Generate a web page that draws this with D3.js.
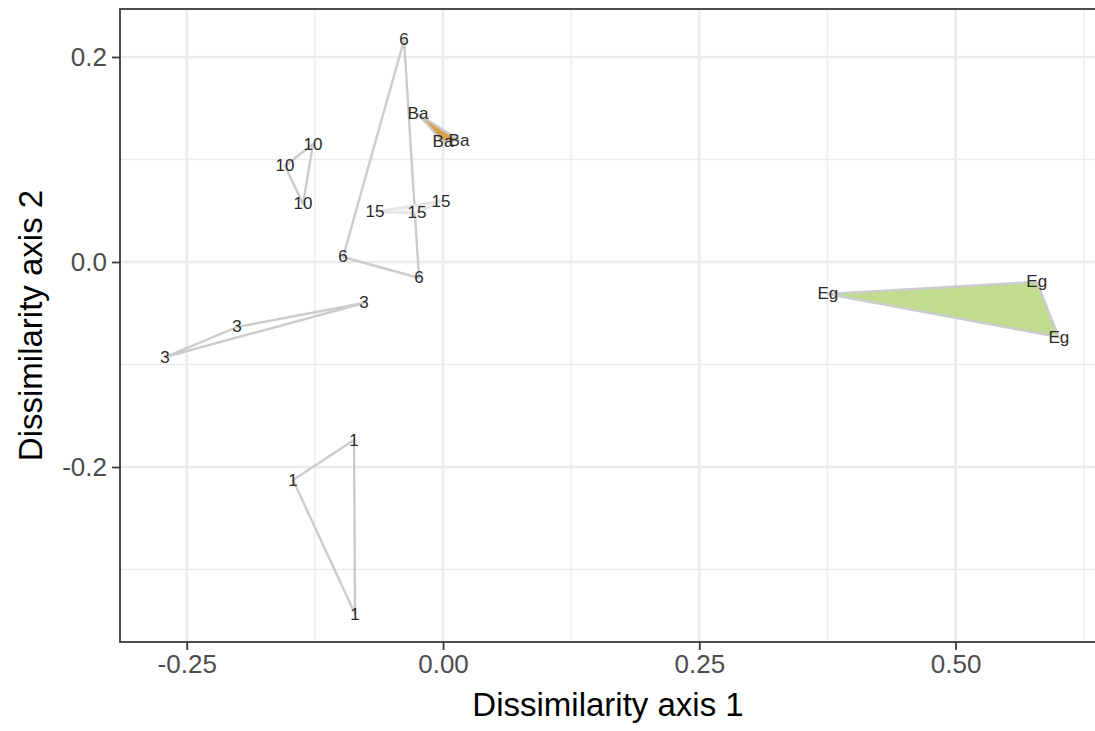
<!DOCTYPE html>
<html>
<head>
<meta charset="utf-8">
<script src="https://cdn.jsdelivr.net/npm/d3@7"></script>
<style>
  html, body { margin: 0; padding: 0; background: #ffffff; }
  svg { display: block; }
  text { font-family: "Liberation Sans", Arial, Helvetica, sans-serif; }
</style>
</head>
<body>
<svg id="chart" width="1095" height="731"></svg>
<script>
// Site scores on the first two dissimilarity axes, grouped by sample label
const sampleLabels = ["1", "1", "1", "3", "3", "3", "6", "6", "6",
                      "10", "10", "10", "15", "15", "15", "Ba", "Ba", "Ba", "Eg", "Eg", "Eg"];
const axis1Scores = [-0.0868, -0.1463, -0.0858,
                     -0.0770, -0.2009, -0.2711,
                     -0.0380, -0.0975, -0.0234,
                     -0.1268, -0.1541, -0.1365,
                     -0.0663, -0.0254, -0.0020,
                     -0.0244, 0.0000, 0.0156,
                      0.3754, 0.5792, 0.6007];
const axis2Scores = [-0.1737, -0.2127, -0.3434,
                     -0.0400, -0.0634, -0.0927,
                      0.2166, 0.0049, -0.0156,
                      0.1151, 0.0937, 0.0566,
                      0.0488, 0.0478, 0.0595,
                      0.1444, 0.1171, 0.1190,
                     -0.0312, -0.0195, -0.0732];

const groupOrder = ["1", "3", "6", "10", "15", "Ba", "Eg"];
const xTicks = [-0.25, 0, 0.25, 0.5];
const xMinor = [-0.125, 0.125, 0.375, 0.625];
const yTicks = [-0.2, 0, 0.2];
const yMinor = [-0.3, -0.1, 0.1];
const xTitle = "Dissimilarity axis 1";
const yTitle = "Dissimilarity axis 2";

// Hull appearance per group
const hullStyle = {
  "1":  { fill: "none",    stroke: "#cccccc" },
  "3":  { fill: "none",    stroke: "#cccccc" },
  "6":  { fill: "none",    stroke: "#cccccc" },
  "10": { fill: "none",    stroke: "#cccccc" },
  "15": { fill: "#f3f3f3", stroke: "#e4e4e4" },
  "Ba": { fill: "#d6a24c", stroke: "#cccccc" },
  "Eg": { fill: "#bfdc8f", stroke: "#cccccc" }
};

const svg = d3.select("#chart");
const panel = { left: 120, right: 1096, top: 9, bottom: 642 };

const x = d3.scaleLinear().domain([-0.3151, 0.6370]).range([panel.left, panel.right]);
const y = d3.scaleLinear().domain([-0.3707, 0.2468]).range([panel.bottom, panel.top]);

const points = sampleLabels.map((g, i) => ({ group: g, a1: axis1Scores[i], a2: axis2Scores[i] }));

// plain hyphen for negative tick labels
const fmt = f => v => d3.format(f)(v).replace("\u2212", "-");

// panel background and grid
svg.append("rect")
  .attr("x", panel.left).attr("y", panel.top)
  .attr("width", panel.right - panel.left).attr("height", panel.bottom - panel.top)
  .attr("fill", "#ffffff");

const grid = svg.append("g");
grid.selectAll("line.xminor").data(xMinor).join("line")
  .attr("x1", d => x(d)).attr("x2", d => x(d))
  .attr("y1", panel.top).attr("y2", panel.bottom)
  .attr("stroke", "#ececec").attr("stroke-width", 1.4);
grid.selectAll("line.yminor").data(yMinor).join("line")
  .attr("y1", d => y(d)).attr("y2", d => y(d))
  .attr("x1", panel.left).attr("x2", panel.right)
  .attr("stroke", "#ececec").attr("stroke-width", 1.4);
grid.selectAll("line.xmajor").data(xTicks).join("line")
  .attr("x1", d => x(d)).attr("x2", d => x(d))
  .attr("y1", panel.top).attr("y2", panel.bottom)
  .attr("stroke", "#ebebeb").attr("stroke-width", 2.6);
grid.selectAll("line.ymajor").data(yTicks).join("line")
  .attr("y1", d => y(d)).attr("y2", d => y(d))
  .attr("x1", panel.left).attr("x2", panel.right)
  .attr("stroke", "#ebebeb").attr("stroke-width", 2.6);

// convex hulls
const hulls = svg.append("g");
groupOrder.forEach(g => {
  const pts = points.filter(p => p.group === g).map(p => [x(p.a1), y(p.a2)]);
  const hull = d3.polygonHull(pts);
  hulls.append("path")
    .attr("d", "M" + hull.map(p => p.join(",")).join("L") + "Z")
    .attr("fill", hullStyle[g].fill)
    .attr("stroke", hullStyle[g].stroke)
    .attr("stroke-width", 2.4)
    .attr("stroke-linejoin", "round");
});

// sample labels
svg.append("g").selectAll("text").data(points).join("text")
  .attr("x", d => x(d.a1)).attr("y", d => y(d.a2))
  .attr("text-anchor", "middle")
  .attr("dominant-baseline", "central")
  .attr("font-size", 17)
  .attr("fill", "#2a2a2a")
  .text(d => d.group);

// panel border
svg.append("rect")
  .attr("x", panel.left).attr("y", panel.top)
  .attr("width", panel.right - panel.left).attr("height", panel.bottom - panel.top)
  .attr("fill", "none").attr("stroke", "#3a3a3a").attr("stroke-width", 1.8);

// axes
const xAxis = svg.append("g")
  .attr("transform", `translate(0,${panel.bottom})`)
  .call(d3.axisBottom(x).tickValues(xTicks).tickFormat(fmt(".2f")).tickSize(8).tickPadding(5));
const yAxis = svg.append("g")
  .attr("transform", `translate(${panel.left},0)`)
  .call(d3.axisLeft(y).tickValues(yTicks).tickFormat(fmt(".1f")).tickSize(8).tickPadding(5));

[xAxis, yAxis].forEach(ax => {
  ax.select(".domain").remove();
  ax.selectAll(".tick line").attr("stroke", "#3a3a3a").attr("stroke-width", 1.8);
  ax.selectAll(".tick text")
    .attr("fill", "#4d4d4d")
    .attr("font-size", 26)
    .attr("font-family", "'Liberation Sans', Arial, sans-serif");
});

// axis titles
svg.append("text")
  .attr("x", (panel.left + panel.right) / 2).attr("y", 716)
  .attr("text-anchor", "middle")
  .attr("font-size", 33)
  .attr("fill", "#000000")
  .text(xTitle);
svg.append("text")
  .attr("transform", `translate(42,${(panel.top + panel.bottom) / 2}) rotate(-90)`)
  .attr("text-anchor", "middle")
  .attr("font-size", 33)
  .attr("fill", "#000000")
  .text(yTitle);
</script>
</body>
</html>
